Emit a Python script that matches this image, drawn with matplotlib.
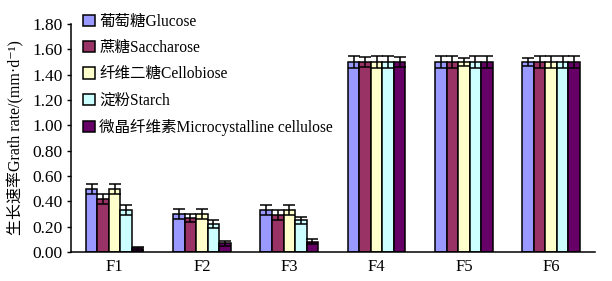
import matplotlib as mpl
mpl.use("Agg")
import matplotlib.pyplot as plt
import numpy as np

plt.rcParams["font.family"] = ["Liberation Serif", "Noto Sans CJK SC", "DejaVu Serif"]
plt.rcParams["font.size"] = 12

groups = ["F1", "F2", "F3", "F4", "F5", "F6"]
labels = ["葡萄糖Glucose", "蔗糖Saccharose", "纤维二糖Cellobiose",
          "淀粉Starch", "微晶纤维素Microcystalline cellulose"]
colors = ["#9999FF", "#993366", "#FFFFCC", "#CCFFFF", "#660066"]

glucose = [0.50, 0.30, 0.33, 1.50, 1.50, 1.50]
saccharose = [0.42, 0.27, 0.29, 1.50, 1.50, 1.50]
cellobiose = [0.50, 0.30, 0.33, 1.50, 1.50, 1.50]
starch = [0.33, 0.22, 0.25, 1.50, 1.50, 1.50]
cellulose = [0.03, 0.07, 0.08, 1.50, 1.50, 1.50]

err_glucose = [0.04, 0.04, 0.04, 0.05, 0.05, 0.03]
err_saccharose = [0.04, 0.03, 0.04, 0.04, 0.05, 0.05]
err_cellobiose = [0.04, 0.04, 0.04, 0.05, 0.03, 0.05]
err_starch = [0.04, 0.03, 0.03, 0.05, 0.05, 0.05]
err_cellulose = [0.01, 0.02, 0.02, 0.04, 0.05, 0.05]

series = [glucose, saccharose, cellobiose, starch, cellulose]
errs = [err_glucose, err_saccharose, err_cellobiose, err_starch, err_cellulose]

fig = plt.figure(figsize=(6.12, 2.81), dpi=100)
ax = fig.add_axes([0.116, 0.103, 0.856, 0.812])

x = np.arange(len(groups))
w = 0.132
for i, (vals, e) in enumerate(zip(series, errs)):
	pos = x + (i - 2) * w
	ax.bar(pos, vals, width=w, color=colors[i], edgecolor="black", linewidth=1.1, label=labels[i], zorder=2)
	ax.errorbar(pos, vals, yerr=e, fmt="none", ecolor="black", elinewidth=1.1, capsize=4, capthick=1.1, zorder=3)

ax.set_xlim(-0.5, 5.5)
ax.set_ylim(0, 1.8)
ticks = np.arange(0, 1.81, 0.2)
ax.set_yticks(ticks)
ax.set_yticklabels(["%.2f" % v for v in ticks], fontsize=12.5)
ax.set_xticks(x)
ax.set_xticklabels(groups, fontsize=12)
ax.tick_params(axis="x", length=0, pad=5)
ax.tick_params(axis="y", direction="out", length=3, width=1, pad=3)
for s in ["top", "right"]:
	ax.spines[s].set_visible(False)
ax.spines["left"].set_linewidth(1.1)
ax.spines["bottom"].set_linewidth(1.1)
ax.set_ylabel("生长速率Grath rate/(mm·d⁻¹)", fontsize=11.5, labelpad=6)

ax.legend(loc="upper left", bbox_to_anchor=(0.005, 1.085), frameon=False, fontsize=11.2,
	handlelength=0.75, handleheight=0.75, handletextpad=0.3, labelspacing=0.66,
	borderaxespad=0.2)

plt.savefig("out.png", dpi=100)
